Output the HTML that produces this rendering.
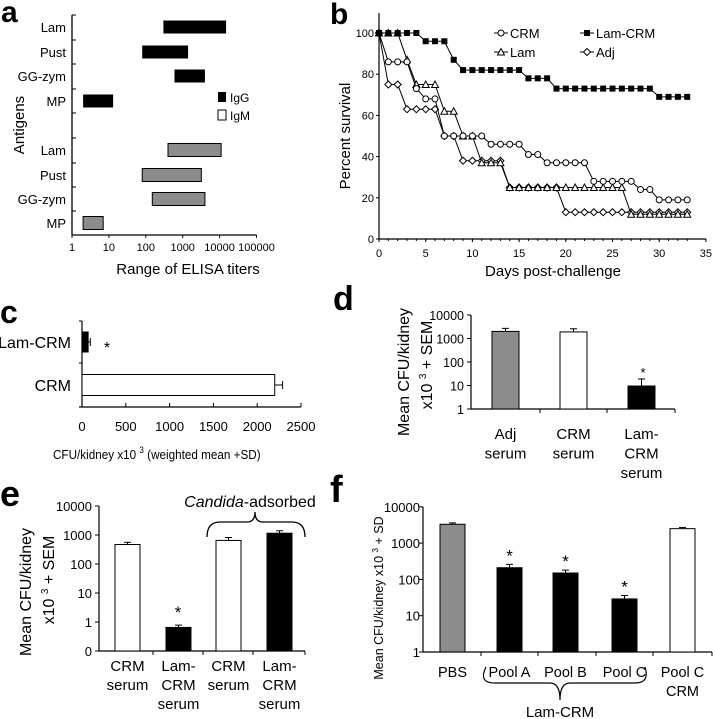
<!DOCTYPE html>
<html><head><meta charset="utf-8">
<style>
html,body{margin:0;padding:0;background:#fff;}
svg{display:block;font-family:"Liberation Sans",Arial,sans-serif;}
</style></head>
<body>
<svg id="fig" width="713" height="719" viewBox="0 0 713 719" xmlns="http://www.w3.org/2000/svg"></svg>
<script>
// ---------- Panel a data ----------
const aAntigens = ["Lam","Pust","GG-zym","MP"];
const aIgGLow = [300, 80, 600, 2];
const aIgGHigh = [15000, 1400, 4000, 13];
const aIgMLow = [400, 80, 150, 2];
const aIgMHigh = [11000, 3200, 4000, 7];
const aTicks = [1,10,100,1000,10000,100000];
// ---------- Panel b data ----------
const bDays = [0,1,2,3,4,5,6,7,8,9,10,11,12,13,14,15,16,17,18,19,20,21,22,23,24,25,26,27,28,29,30,31,32,33];
const bLamCRM = [100,100,100,100,100,96,96,96,87,82,82,82,82,82,82,82,78,78,78,73,73,73,73,73,73,73,73,73,73,73,69,69,69,69];
const bCRM = [100,86,86,86,73,68,68,50,50,50,50,50,46,46,46,46,41,41,37,37,37,37,37,28,28,28,28,28,24,24,19,19,19,19];
const bLam = [100,100,100,87,75,75,75,62,62,50,50,37,37,37,25,25,25,25,25,25,25,25,25,25,25,25,25,12,12,12,12,12,12,12];
const bAdj = [100,75,75,63,63,63,63,50,50,38,38,38,38,38,25,25,25,25,25,25,13,13,13,13,13,13,13,13,13,13,13,13,13,13];
const bXTicks = [0,5,10,15,20,25,30,35];
const bYTicks = [0,20,40,60,80,100];
// ---------- Panel c data ----------
const cGroups = ["Lam-CRM","CRM"];
const cValues = [70, 2200];
const cErrors = [95, 2290];
const cTicks = [0,500,1000,1500,2000,2500];
// ---------- Panel d data ----------
const dGroups = [["Adj","serum"],["CRM","serum"],["Lam-","CRM","serum"]];
const dValues = [2000, 1900, 9.5];
const dErrors = [2700, 2600, 19];
const dTicks = [1,10,100,1000,10000];
// ---------- Panel e data ----------
const eGroups = [["CRM","serum"],["Lam-","CRM","serum"],["CRM","serum"],["Lam-","CRM","serum"]];
const eValues = [470, 0.65, 650, 1150];
const eErrors = [560, 0.78, 820, 1400];
const eTicks = [0.1,1,10,100,1000,10000];
const eTickLabels = ["0","1","10","100","1000","10000"];
// ---------- Panel f data ----------
const fGroups = [["PBS"],["Pool A"],["Pool B"],["Pool C"],["Pool C","CRM"]];
const fValues = [3300, 210, 150, 29, 2500];
const fErrors = [3600, 260, 180, 36, 2700];
const fTicks = [1,10,100,1000,10000];

const NS = "http://www.w3.org/2000/svg";
const svg = document.getElementById("fig");
function el(tag, attrs, parent){
  const e = document.createElementNS(NS, tag);
  for (const k in attrs) e.setAttribute(k, attrs[k]);
  (parent||svg).appendChild(e);
  return e;
}
function txt(s, x, y, size, anchor, parent, extra){
  const t = el("text", Object.assign({x:x, y:y, "font-size":size, "text-anchor":anchor||"start", fill:"#000"}, extra||{}), parent);
  t.textContent = s;
  return t;
}
function group(name){
  const g = el("g", {});
  
  
  return g;
}
function letter(s, x, y, size, name){
  const t = txt(s, x, y, size, "start", svg, {"font-weight":"bold"});
  
  
}
function drawMarker(m, x, y, p){
  if(m==="circle") el("circle",{cx:x,cy:y,r:3,fill:"#fff",stroke:"#000"},p);
  else if(m==="square") el("rect",{x:x-3,y:y-3,width:6,height:6,fill:"#000"},p);
  else if(m==="tri") el("polygon",{points:`${x},${y-3.5} ${x-3.5},${y+3} ${x+3.5},${y+3}`,fill:"#fff",stroke:"#000"},p);
  else el("polygon",{points:`${x},${y-3.5} ${x+3.5},${y} ${x},${y+3.5} ${x-3.5},${y}`,fill:"#fff",stroke:"#000"},p);
}
function bar(g, name, x, w, yTop, yBase, fill, yErr){
  const b = el("rect",{x:x,y:yTop,width:w,height:yBase-yTop,fill:fill,stroke:"#000"},g);
  
  
  const cx = x + w/2;
  el("line",{x1:cx,y1:yTop,x2:cx,y2:yErr,stroke:"#000"},g);
  el("line",{x1:cx-3.5,y1:yErr,x2:cx+3.5,y2:yErr,stroke:"#000"},g);
}
const log10 = Math.log10;

// ===== Panel a =====
(function(){
  const g = group("panel-a");
  const x0 = 72, dec = 36.9;
  const X = v => x0 + log10(v)*dec;
  const rowsY = [27,52,76,101,150,175,199,223];
  el("line",{x1:x0,y1:15,x2:x0,y2:235,stroke:"#000","stroke-width":1.3},g);
  el("line",{x1:x0,y1:235,x2:X(100000),y2:235,stroke:"#000","stroke-width":1.3},g);
  [15,40,64,89,113,138,163,187,211].forEach(y=>el("line",{x1:x0,y1:y,x2:x0+4,y2:y,stroke:"#000"},g));
  aTicks.forEach(t=>{
    el("line",{x1:X(t),y1:235,x2:X(t),y2:238,stroke:"#000"},g);
    txt(String(t), X(t), 251, 11, "middle", g);
  });
  aAntigens.forEach((n,i)=>{
    txt(n, 66, rowsY[i]+5, 13, "end", g);
    txt(n, 66, rowsY[i+4]+5, 13, "end", g);
    const b1 = el("rect",{x:X(aIgGLow[i]),y:rowsY[i]-6.5,width:X(aIgGHigh[i])-X(aIgGLow[i]),height:13,fill:"#000"},g);
    
    
    const b2 = el("rect",{x:X(aIgMLow[i]),y:rowsY[i+4]-6.5,width:X(aIgMHigh[i])-X(aIgMLow[i]),height:13,fill:"#8c8c8c",stroke:"#000","stroke-width":1},g);
    
    
  });
  el("rect",{x:218,y:92,width:8,height:10,fill:"#000"},g);
  txt("IgG", 230, 102, 12, "start", g);
  el("rect",{x:218,y:110,width:8,height:10,fill:"#fff",stroke:"#000"},g);
  txt("IgM", 230, 120, 12, "start", g);
  txt("Antigens", 24, 125, 15, "middle", g, {transform:"rotate(-90 24 125)"});
  txt("Range of ELISA titers", 188, 274, 15, "middle", g);
})();
letter("a", 1, 22, 30, "panel-a-label");

// ===== Panel b =====
(function(){
  const g = group("panel-b");
  const x0 = 379, y0 = 239, xs = 9.34, ys = 2.06;
  const X = d => x0 + d*xs, Y = v => y0 - v*ys;
  el("line",{x1:x0,y1:Y(100)-20,x2:x0,y2:y0,stroke:"#000","stroke-width":1.2},g);
  el("line",{x1:x0,y1:y0,x2:X(35),y2:y0,stroke:"#000","stroke-width":1.2},g);
  bYTicks.forEach(t=>{el("line",{x1:x0-3,y1:Y(t),x2:x0,y2:Y(t),stroke:"#000"},g);txt(String(t),x0-5,Y(t)+4,11,"end",g);});
  bXTicks.forEach(t=>{el("line",{x1:X(t),y1:y0,x2:X(t),y2:y0+3,stroke:"#000"},g);txt(String(t),X(t),y0+18,11,"middle",g);});
  for(let d=0; d<=33; d++) el("line",{x1:X(d),y1:y0,x2:X(d),y2:y0+2,stroke:"#000"},g);
  function series(vals, marker, name){
    const sg = el("g",{},g);
    
    
    el("polyline",{points:bDays.map((d,i)=>X(d)+","+Y(vals[i])).join(" "),fill:"none",stroke:"#000","stroke-width":1},sg);
    bDays.forEach((d,i)=>drawMarker(marker, X(d), Y(vals[i]), sg));
  }
  series(bAdj,"diamond","series-adj");
  series(bLam,"tri","series-lam");
  series(bCRM,"circle","series-crm");
  series(bLamCRM,"square","series-lam-crm");
  const leg = [["CRM","circle",494,33],["Lam-CRM","square",580,33],["Lam","tri",494,52],["Adj","diamond",580,52]];
  leg.forEach(l=>{
    el("line",{x1:l[2],y1:l[3],x2:l[2]+14,y2:l[3],stroke:"#000"},g);
    drawMarker(l[1], l[2]+7, l[3], g);
    const t = txt(l[0], l[2]+16, l[3]+5, 13, "start", g);
    
    
  });
  txt("Percent survival", 350, 136, 15, "middle", g, {transform:"rotate(-90 350 136)"});
  txt("Days post-challenge", 553, 276, 15, "middle", g);
})();
letter("b", 330, 24, 30, "panel-b-label");

// ===== Panel c =====
(function(){
  const g = group("panel-c");
  const x0 = 82, s = (301-82)/2500;
  const X = v => x0 + v*s;
  el("line",{x1:x0,y1:321,x2:x0,y2:407,stroke:"#000","stroke-width":1.2},g);
  el("line",{x1:x0-3,y1:407,x2:X(2500),y2:407,stroke:"#000","stroke-width":1.2},g);
  [321,363,407].forEach(y=>el("line",{x1:x0-3,y1:y,x2:x0,y2:y,stroke:"#000"},g));
  cTicks.forEach(t=>{el("line",{x1:X(t),y1:407,x2:X(t),y2:403,stroke:"#000"},g);txt(String(t),X(t),431,13,"middle",g);});
  const ys = [342, 385], hs = [20, 21];
  cGroups.forEach((n,i)=>{
    txt(n, 71, ys[i]+6, 16, "end", g);
    const b = el("rect",{x:x0,y:ys[i]-hs[i]/2,width:X(cValues[i])-x0,height:hs[i],fill:i===0?"#000":"#fff",stroke:"#000"},g);
    
    
    el("line",{x1:X(cValues[i]),y1:ys[i],x2:X(cErrors[i]),y2:ys[i],stroke:"#000"},g);
    el("line",{x1:X(cErrors[i]),y1:ys[i]-4,x2:X(cErrors[i]),y2:ys[i]+4,stroke:"#000"},g);
  });
  txt("*", 107, 353, 16, "middle", g);
  const t = txt("CFU/kidney x10 ", 53, 459, 13, "start", g, {transform:"translate(53 0) scale(0.9 1) translate(-53 0)"});
  const sup = el("tspan",{dy:-6,"font-size":9},t); sup.textContent="3";
  const rest = el("tspan",{dy:6},t); rest.textContent=" (weighted mean +SD)";
})();
letter("c", 0, 323, 32, "panel-c-label");

// ===== Panel d =====
(function(){
  const g = group("panel-d");
  const x0 = 471, y1 = 409, dec = 23.5;
  const Y = v => y1 - log10(v)*dec;
  el("line",{x1:x0,y1:Y(10000),x2:x0,y2:y1,stroke:"#000","stroke-width":1.2},g);
  el("line",{x1:x0,y1:y1,x2:675,y2:y1,stroke:"#000","stroke-width":1.2},g);
  dTicks.forEach(t=>{el("line",{x1:x0-4,y1:Y(t),x2:x0,y2:Y(t),stroke:"#000"},g);txt(String(t),x0-7,Y(t)+5,12.5,"end",g);});
  [540,607,675].forEach(x=>el("line",{x1:x,y1:y1,x2:x,y2:y1+4,stroke:"#000"},g));
  const xs = [492,560,628], fills=["#8c8c8c","#fff","#000"];
  dGroups.forEach((lines,i)=>{
    bar(g, 'bar-'+lines.join('-').toLowerCase(), xs[i], 27, Y(dValues[i]), y1, fills[i], Y(dErrors[i]));
    lines.forEach((l,j)=>txt(l,xs[i]+13.5,439+j*19.5,15,"middle",g));
  });
  txt("*", 643, 377, 13, "middle", g);
  txt("Mean CFU/kidney", 409, 372, 16, "middle", g, {transform:"rotate(-90 409 372)"});
  const t = txt("x10 ", 432, 365, 16, "middle", g, {transform:"rotate(-90 432 365)"});
  const s1 = el("tspan",{dy:-6,"font-size":10},t); s1.textContent="3";
  const s2 = el("tspan",{dy:6},t); s2.textContent=" + SEM";
})();
letter("d", 333, 310, 34, "panel-d-label");

// ===== Panel e =====
(function(){
  const g = group("panel-e");
  const x0 = 99, y1 = 651, dec = 29;
  const Y = v => y1 - (log10(v)+1)*dec;
  el("line",{x1:x0,y1:Y(10000),x2:x0,y2:y1,stroke:"#000","stroke-width":1.2},g);
  el("line",{x1:x0,y1:y1,x2:305,y2:y1,stroke:"#000","stroke-width":1.2},g);
  eTicks.forEach((t,i)=>{el("line",{x1:x0-4,y1:Y(t),x2:x0,y2:Y(t),stroke:"#000"},g);txt(eTickLabels[i],x0-7,Y(t)+5,13,"end",g);});
  [153,203,253,305].forEach(x=>el("line",{x1:x,y1:y1,x2:x,y2:y1+4,stroke:"#000"},g));
  const xs = [115,166,216,267], fills=["#fff","#000","#fff","#000"];
  eGroups.forEach((lines,i)=>{
    bar(g, 'bar-'+i+'-'+lines.join('-').toLowerCase(), xs[i], 25, Y(eValues[i]), y1, fills[i], Y(eErrors[i]));
    lines.forEach((l,j)=>txt(l,xs[i]+12.5,671+j*19,15,"middle",g));
  });
  txt("*", 178, 618, 17, "middle", g);
  const c = txt("", 250, 507, 16, "middle", g);
  const it = el("tspan",{"font-style":"italic"},c); it.textContent="Candida";
  const ad = el("tspan",{},c); ad.textContent="-adsorbed";
  const br = el("path",{d:"M207,537 Q207,522 220,522 L247,522 Q255,522 255,512 Q255,522 263,522 L292,522 Q305,522 305,537",fill:"none",stroke:"#000","stroke-width":1.3},g);
  
  
  txt("Mean CFU/kidney", 31, 592, 16, "middle", g, {transform:"rotate(-90 31 592)"});
  const t = txt("x10 ", 54, 580, 16, "middle", g, {transform:"rotate(-90 54 580)"});
  const s1 = el("tspan",{dy:-6,"font-size":10},t); s1.textContent="3";
  const s2 = el("tspan",{dy:6},t); s2.textContent=" + SEM";
})();
letter("e", 0, 506, 36, "panel-e-label");

// ===== Panel f =====
(function(){
  const g = group("panel-f");
  const x0 = 423, y1 = 652, dec = 36.3;
  const Y = v => y1 - log10(v)*dec;
  el("line",{x1:x0,y1:Y(10000),x2:x0,y2:y1,stroke:"#000","stroke-width":1.2},g);
  el("line",{x1:x0,y1:y1,x2:712,y2:y1,stroke:"#000","stroke-width":1.2},g);
  fTicks.forEach(t=>{el("line",{x1:x0-4,y1:Y(t),x2:x0,y2:Y(t),stroke:"#000"},g);txt(String(t),x0-3,Y(t)+5,13,"end",g);});
  [481,538,596,653,712].forEach(x=>el("line",{x1:x,y1:y1,x2:x,y2:y1+4,stroke:"#000"},g));
  const xs = [440,497,553,612,670], fills=["#8c8c8c","#000","#000","#000","#fff"];
  fGroups.forEach((lines,i)=>{
    bar(g, 'bar-'+lines.join('-').toLowerCase().replace(/ /g,'-'), xs[i], 25, Y(fValues[i]), y1, fills[i], Y(fErrors[i]));
    lines.forEach((l,j)=>txt(l,xs[i]+12.5,677+j*19,14.5,"middle",g));
    if(i>=1 && i<=3) txt("*", xs[i]+12.5, Y(fErrors[i])-3, 17, "middle", g);
  });
  const br = el("path",{d:"M486,667 Q478,683 495,683 L550,683 Q560,683 560,700 Q560,683 570,683 L635,683 Q650,683 645,667",fill:"none",stroke:"#000","stroke-width":1.2},g);
  
  
  txt("Lam-CRM", 560, 717, 15, "middle", g);
  const t = txt("Mean CFU/kidney x10 ", 383, 598, 12.5, "middle", g, {transform:"rotate(-90 383 598)"});
  const s1 = el("tspan",{dy:-5,"font-size":8},t); s1.textContent="3";
  const s2 = el("tspan",{dy:5},t); s2.textContent=" + SD";
})();
letter("f", 330, 502, 38, "panel-f-label");
</script>
</body></html>
